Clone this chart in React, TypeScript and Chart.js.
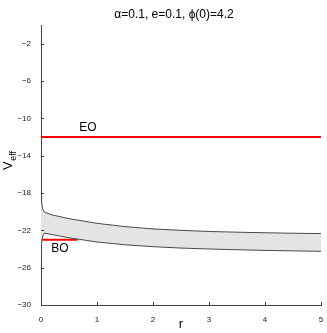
import React, { useEffect, useRef } from "react";
import { Chart, registerables } from "chart.js";

Chart.register(...registerables);

const upperR = [0, 0.01, 0.03, 0.06, 0.2, 0.5, 1, 1.5, 2, 2.5, 3, 3.5, 4, 4.5, 5];
const upperV = [-18.2, -19.0, -19.7, -20.05, -20.35, -20.75, -21.25, -21.6, -21.85, -22.0, -22.12, -22.2, -22.26, -22.31, -22.35];
const lowerR = [0, 0.01, 0.03, 0.06, 0.2, 0.5, 1, 1.5, 2, 2.5, 3, 3.5, 4, 4.5, 5];
const lowerV = [-24.6, -23.4, -22.6, -22.3, -22.45, -22.8, -23.25, -23.55, -23.75, -23.9, -24.0, -24.08, -24.15, -24.2, -24.25];
const eoLevel = -12;
const eoR = [0, 5];
const boLevel = -23;
const boR = [0, 0.65];
const yTicks = [-30, -26, -22, -18, -14, -10, -6, -2];
const xTicks = [0, 1, 2, 3, 4, 5];
const titleText = "\u03b1=0.1, e=0.1, \u03d5(0)=4.2";
const eoLabel = { text: "EO", r: 0.84, v: -11.05 };
const boLabel = { text: "BO", r: 0.34, v: -24.0 };

const FONT = "'Liberation Sans', Arial, sans-serif";

export default function App() {
  const ref = useRef<HTMLCanvasElement>(null);
  useEffect(() => {
    const canvas = ref.current!;
    const overlay = {
      id: "overlay",
      afterDraw(chart: any) {
        const ctx = chart.ctx;
        const xs = chart.scales.x;
        const ys = chart.scales.y;
        const area = chart.chartArea;
        ctx.save();
        // inward ticks
        ctx.strokeStyle = "#444";
        ctx.lineWidth = 1;
        ctx.beginPath();
        for (const t of yTicks) {
          const py = Math.round(ys.getPixelForValue(t)) + 0.5;
          ctx.moveTo(area.left, py);
          ctx.lineTo(area.left + 3, py);
        }
        for (const t of xTicks) {
          const px = Math.round(xs.getPixelForValue(t)) + 0.5;
          ctx.moveTo(px, area.bottom);
          ctx.lineTo(px, area.bottom - 3);
        }
        ctx.stroke();
        // title
        ctx.fillStyle = "#000";
        ctx.font = `12px ${FONT}`;
        ctx.textAlign = "center";
        ctx.textBaseline = "middle";
        ctx.fillText(titleText, 174, 15);
        // x label
        ctx.font = `13px ${FONT}`;
        ctx.fillText("r", xs.getPixelForValue(2.5), 324);
        // EO / BO labels
        ctx.font = `12px ${FONT}`;
        ctx.fillText(eoLabel.text, xs.getPixelForValue(eoLabel.r), ys.getPixelForValue(eoLabel.v));
        ctx.fillText(boLabel.text, xs.getPixelForValue(boLabel.r), ys.getPixelForValue(boLabel.v));
        // y label V_eff
        ctx.translate(12, 170);
        ctx.rotate(-Math.PI / 2);
        ctx.textAlign = "left";
        ctx.textBaseline = "alphabetic";
        ctx.font = `13px ${FONT}`;
        ctx.fillText("V", 0, 0);
        const w = ctx.measureText("V").width;
        ctx.font = `9px ${FONT}`;
        ctx.fillText("eff", w + 0.5, 4);
        ctx.restore();
      },
    };
    const chart = new Chart(canvas, {
      type: "line",
      data: {
        datasets: [
          {
            label: "upper",
            data: upperR.map((r, i) => ({ x: r, y: upperV[i] })),
            borderColor: "#4a4a4a",
            borderWidth: 1,
            pointRadius: 0,
            fill: false,
            tension: 0,
          },
          {
            label: "lower",
            data: lowerR.map((r, i) => ({ x: r, y: lowerV[i] })),
            borderColor: "#4a4a4a",
            borderWidth: 1,
            pointRadius: 0,
            fill: "-1",
            backgroundColor: "#e4e4e4",
            tension: 0,
          },
          {
            label: "EO",
            data: eoR.map((r) => ({ x: r, y: eoLevel })),
            borderColor: "#ff0000",
            borderWidth: 2,
            pointRadius: 0,
            fill: false,
          },
          {
            label: "BO",
            data: boR.map((r) => ({ x: r, y: boLevel })),
            borderColor: "#ff0000",
            borderWidth: 2,
            pointRadius: 0,
            fill: false,
          },
        ],
      },
      options: {
        animation: false,
        responsive: false,
        layout: { padding: { top: 25, right: 6, left: 0, bottom: 0 } },
        plugins: { legend: { display: false }, title: { display: false }, tooltip: { enabled: false } },
        scales: {
          x: {
            type: "linear",
            min: 0,
            max: 5,
            grid: { display: false },
            border: { display: true, color: "#444", width: 1 },
            afterBuildTicks: (axis: any) => {
              axis.ticks = xTicks.map((v) => ({ value: v }));
            },
            afterFit: (axis: any) => {
              axis.height = 28;
            },
            ticks: {
              font: { family: FONT, size: 8 },
              color: "#222",
              padding: 2,
              maxRotation: 0,
              callback: (v: any) => String(v),
            },
          },
          y: {
            type: "linear",
            min: -30,
            max: 0,
            grid: { display: false },
            border: { display: true, color: "#444", width: 1 },
            afterBuildTicks: (axis: any) => {
              axis.ticks = yTicks.map((v) => ({ value: v }));
            },
            afterFit: (axis: any) => {
              axis.width = 41;
            },
            ticks: {
              font: { family: FONT, size: 8 },
              color: "#222",
              padding: 2,
              callback: (v: any) => String(v).replace("-", "\u2212"),
            },
          },
        },
      },
      plugins: [overlay],
    });
    return () => chart.destroy();
  }, []);
  return (
    <div style={{ position: "fixed", left: 0, top: 0, width: 327, height: 333, background: "#fff" }}>
      <canvas ref={ref} width={327} height={333} style={{ display: "block" }} />
    </div>
  );
}
